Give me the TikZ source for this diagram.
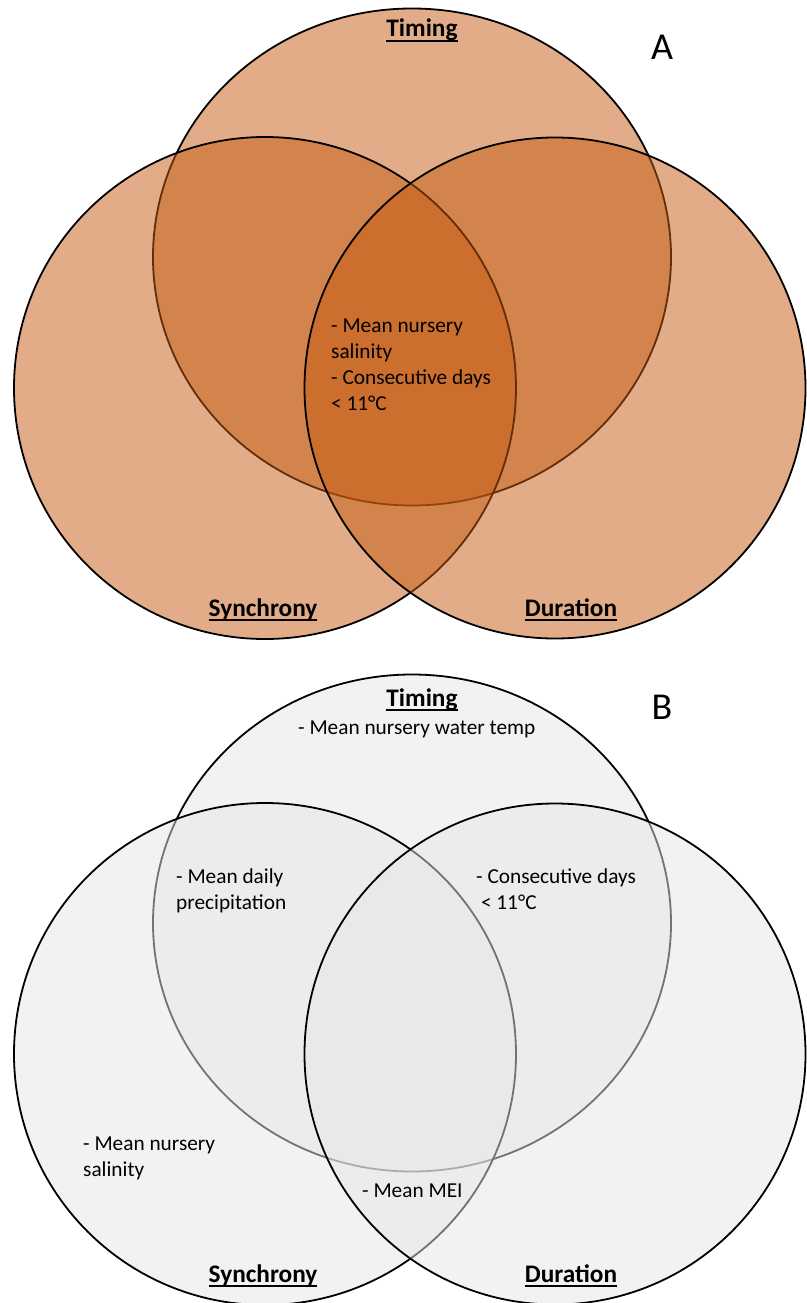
\documentclass[tikz,border=0pt]{standalone}
\usepackage{fontspec}
\setmainfont{Carlito}
\usetikzlibrary{positioning, shapes.geometric}
\definecolor{rust}{HTML}{C55A11}
\definecolor{mist}{HTML}{E7E6E6}
\newcommand{\venntitle}[1]{{\fontsize{25.3}{30}\selectfont\bfseries
    \setbox0=\hbox{#1}\rlap{\rule[-0.19em]{\wd0}{0.075em}}\box0}}
\newcommand{\panel}[1]{{\fontsize{38}{44}\selectfont #1}}

\begin{document}
\begin{tikzpicture}[
    x=1pt, y=-1pt,
    ring/.style={
        draw=black,
        line width=1.8pt,
        fill opacity=0.5,
        inner sep=0pt
    },
    entry/.style={
        font=\fontsize{21.3}{25.7}\selectfont,
        align=left,
        inner sep=0pt,
        anchor=base west% base = last line
    },
    title/.style={inner sep=0pt, anchor=base}
]
    \useasboundingbox (0,0) rectangle (806,1303);

    % --- A) circles: Timing, Synchrony, Duration ---
    \node[ring, ellipse, fill=rust, minimum width=518pt, minimum height=497pt] (timA) at (412,257) {};
    \node[ring, circle, fill=rust, minimum size=502pt] (syncA) at (265,388) {};
    \node[ring, circle, fill=rust, minimum size=501pt] (durA) at (555,388) {};

    \node[title] (timAlab) at (422,37) {\venntitle{Timing}};
    \node[title] (syncAlab) at (263,616) {\venntitle{Synchrony}};
    \node[title] (durAlab) at (571,616) {\venntitle{Duration}};
    \node[title] (panA) at (662,60) {\panel{A}};

    \node[entry] (midA) at (331,410) {- Mean nursery\\salinity\\- Consecutive days\\< 11°C};

    % --- B) circles: Timing, Synchrony, Duration ---
    \node[ring, ellipse, fill=mist, minimum width=518pt, minimum height=497pt] (timB) at (412,923) {};
    \node[ring, circle, fill=mist, minimum size=502pt] (syncB) at (265,1054) {};
    \node[ring, circle, fill=mist, minimum size=501pt] (durB) at (555,1054) {};

    \node[title] (timBlab) at (422,706) {\venntitle{Timing}};
    \node[title] (syncBlab) at (263,1282) {\venntitle{Synchrony}};
    \node[title] (durBlab) at (571,1282) {\venntitle{Duration}};
    \node[title] (panB) at (662,719) {\panel{B}};

    \node[entry] (timBtxt) at (298,734) {- Mean nursery water temp};
    \node[entry] (tsB) at (176,909) {- Mean daily\\precipitation};
    \node[entry] (tdB) at (476,909) {- Consecutive days\\\ < 11°C};
    \node[entry] (syncBtxt) at (83,1176) {- Mean nursery\\salinity};
    \node[entry] (allB) at (362,1197) {- Mean MEI};

\end{tikzpicture}
\end{document}
